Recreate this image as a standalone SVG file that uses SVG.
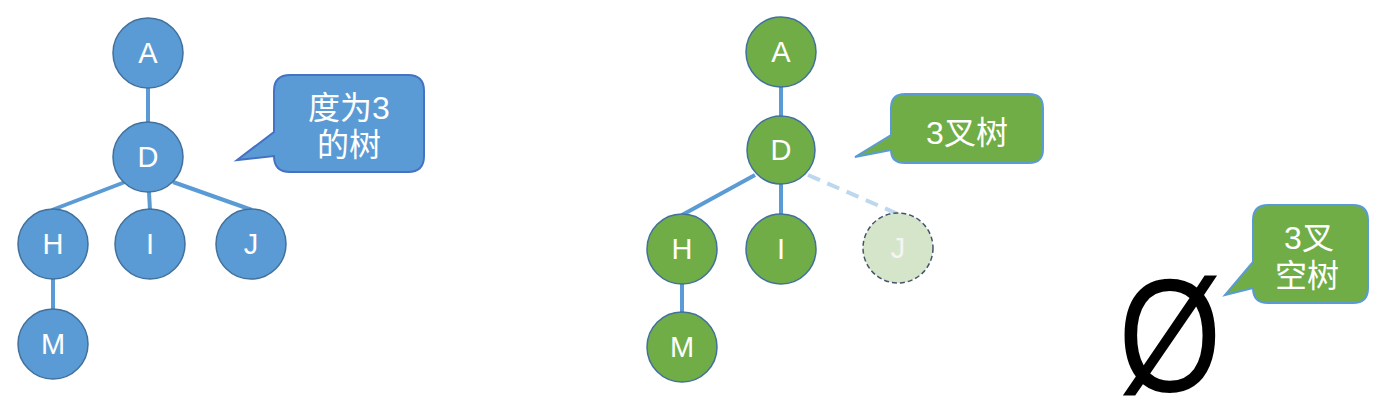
<svg xmlns="http://www.w3.org/2000/svg" width="1382" height="417" viewBox="0 0 1382 417">
<style>
.bn{fill:#5b9bd5;stroke:#41719c;stroke-width:1.5}
.gn{fill:#70ad47;stroke:#41719c;stroke-width:1.5}
.jn{fill:#d5e5ca;stroke:#44546a;stroke-width:1.5;stroke-dasharray:5 3}
.lt{font-family:"Liberation Sans",Arial,sans-serif;font-size:29px;fill:#ffffff;text-anchor:middle}
.ct{font-family:"Liberation Sans","Noto Sans CJK SC",sans-serif;font-size:32px;fill:#ffffff;text-anchor:middle}
.e{stroke:#5b9bd5;stroke-width:4;fill:none}
.ed{stroke:#bdd7ee;stroke-width:4;fill:none;stroke-dasharray:13 8}
.c1{fill:#5b9bd5;stroke:#4472c4;stroke-width:2}
.c2{fill:#70ad47;stroke:#5b9bd5;stroke-width:2}
</style>
<g id="connectors">
<line class="e" x1="148" y1="88" x2="148" y2="123"/>
<line class="e" x1="125" y1="182" x2="52" y2="210"/>
<line class="e" x1="149" y1="192" x2="150" y2="210"/>
<line class="e" x1="173" y1="182" x2="252" y2="210"/>
<line class="e" x1="53" y1="278" x2="53" y2="310"/>
<line class="e" x1="781" y1="86" x2="781" y2="117"/>
<line class="e" x1="755" y1="175" x2="682" y2="215"/>
<line class="e" x1="781" y1="183" x2="781" y2="215"/>
<line class="ed" x1="808" y1="175" x2="898" y2="214"/>
<line class="e" x1="682" y1="283" x2="682" y2="313"/>
</g>
<g id="L_A"><circle class="bn" cx="148" cy="53" r="35"/><text class="lt" x="148" y="63">A</text></g>
<g id="L_D"><circle class="bn" cx="148" cy="157" r="35"/><text class="lt" x="148" y="167">D</text></g>
<g id="L_H"><circle class="bn" cx="53" cy="244" r="35"/><text class="lt" x="53" y="254">H</text></g>
<g id="L_I"><circle class="bn" cx="150" cy="244" r="35"/><text class="lt" x="150" y="254">I</text></g>
<g id="L_J"><circle class="bn" cx="251" cy="244" r="35"/><text class="lt" x="251" y="254">J</text></g>
<g id="L_M"><circle class="bn" cx="53" cy="344" r="35"/><text class="lt" x="53" y="354">M</text></g>
<g id="callout1">
<path class="c1" d="M290,75 H408 Q424,75 424,91 V156 Q424,172 408,172 H290 Q274,172 274,156 L237,160 L274,132 V91 Q274,75 290,75 Z"/>
<text class="ct" x="349" y="119">度为3</text>
<text class="ct" x="349" y="156">的树</text>
</g>
<g id="R_A"><circle class="gn" cx="781" cy="52" r="35"/><text class="lt" x="781" y="62">A</text></g>
<g id="R_D"><circle class="gn" cx="781" cy="150" r="34"/><text class="lt" x="781" y="160">D</text></g>
<g id="R_H"><circle class="gn" cx="682" cy="249" r="35"/><text class="lt" x="682" y="259">H</text></g>
<g id="R_I"><circle class="gn" cx="781" cy="249" r="35"/><text class="lt" x="781" y="259">I</text></g>
<g id="R_J"><circle class="jn" cx="898" cy="248" r="35"/><text class="lt" x="898" y="258" style="fill:#f5f5f5">J</text></g>
<g id="R_M"><circle class="gn" cx="682" cy="347" r="35"/><text class="lt" x="682" y="357">M</text></g>
<g id="callout2">
<path class="c2" d="M905,94 H1029 Q1043,94 1043,108 V149 Q1043,163 1029,163 H905 Q891,163 891,150 L855,157 L891,135 V108 Q891,94 905,94 Z"/>
<text class="ct" x="967" y="144">3叉树</text>
</g>
<g id="empty">
<text transform="translate(1170,391) scale(0.82,1)" x="0" y="0" style="font-family:'Liberation Sans',Arial,sans-serif;font-size:162px;fill:#000000;text-anchor:middle">Ø</text>
</g>
<g id="callout3">
<path class="c2" d="M1268,205 H1353 Q1368,205 1368,220 V288 Q1368,303 1353,303 H1268 Q1253,303 1253,288 L1225,295 L1253,262 V220 Q1253,205 1268,205 Z"/>
<text class="ct" x="1309" y="249">3叉</text>
<text class="ct" x="1307" y="287">空树</text>
</g>
</svg>
